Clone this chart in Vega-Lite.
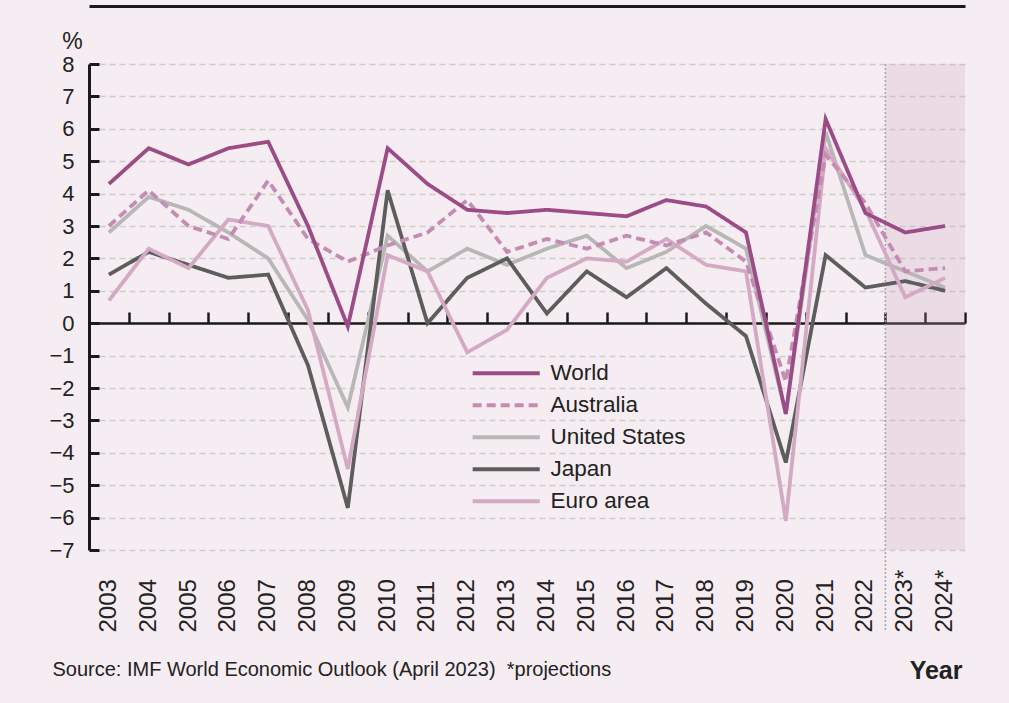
{
  "$schema": "https://vega.github.io/schema/vega-lite/v6.json",
  "width": 876,
  "height": 486,
  "autosize": {"type": "none"},
  "padding": {"left": 89, "top": 64, "right": 44, "bottom": 153},
  "background": "#f5edf1",
  "config": {
    "view": {"stroke": null},
    "font": "Liberation Sans",
    "axis": {"labelFont": "Liberation Sans", "titleFont": "Liberation Sans", "labelColor": "#222222", "titleColor": "#222222"},
    "legend": {"labelFont": "Liberation Sans"}
  },
  "datasets": {
    "growth": [
      {"year": "2003", "series": "United States", "value": 2.8},
      {"year": "2004", "series": "United States", "value": 3.9},
      {"year": "2005", "series": "United States", "value": 3.5},
      {"year": "2006", "series": "United States", "value": 2.8},
      {"year": "2007", "series": "United States", "value": 2.0},
      {"year": "2008", "series": "United States", "value": 0.1},
      {"year": "2009", "series": "United States", "value": -2.6},
      {"year": "2010", "series": "United States", "value": 2.7},
      {"year": "2011", "series": "United States", "value": 1.6},
      {"year": "2012", "series": "United States", "value": 2.3},
      {"year": "2013", "series": "United States", "value": 1.8},
      {"year": "2014", "series": "United States", "value": 2.3},
      {"year": "2015", "series": "United States", "value": 2.7},
      {"year": "2016", "series": "United States", "value": 1.7},
      {"year": "2017", "series": "United States", "value": 2.2},
      {"year": "2018", "series": "United States", "value": 3.0},
      {"year": "2019", "series": "United States", "value": 2.3},
      {"year": "2020", "series": "United States", "value": -2.8},
      {"year": "2021", "series": "United States", "value": 5.9},
      {"year": "2022", "series": "United States", "value": 2.1},
      {"year": "2023*", "series": "United States", "value": 1.6},
      {"year": "2024*", "series": "United States", "value": 1.1},
      {"year": "2003", "series": "Japan", "value": 1.5},
      {"year": "2004", "series": "Japan", "value": 2.2},
      {"year": "2005", "series": "Japan", "value": 1.8},
      {"year": "2006", "series": "Japan", "value": 1.4},
      {"year": "2007", "series": "Japan", "value": 1.5},
      {"year": "2008", "series": "Japan", "value": -1.3},
      {"year": "2009", "series": "Japan", "value": -5.7},
      {"year": "2010", "series": "Japan", "value": 4.1},
      {"year": "2011", "series": "Japan", "value": 0.0},
      {"year": "2012", "series": "Japan", "value": 1.4},
      {"year": "2013", "series": "Japan", "value": 2.0},
      {"year": "2014", "series": "Japan", "value": 0.3},
      {"year": "2015", "series": "Japan", "value": 1.6},
      {"year": "2016", "series": "Japan", "value": 0.8},
      {"year": "2017", "series": "Japan", "value": 1.7},
      {"year": "2018", "series": "Japan", "value": 0.6},
      {"year": "2019", "series": "Japan", "value": -0.4},
      {"year": "2020", "series": "Japan", "value": -4.3},
      {"year": "2021", "series": "Japan", "value": 2.1},
      {"year": "2022", "series": "Japan", "value": 1.1},
      {"year": "2023*", "series": "Japan", "value": 1.3},
      {"year": "2024*", "series": "Japan", "value": 1.0},
      {"year": "2003", "series": "Euro area", "value": 0.7},
      {"year": "2004", "series": "Euro area", "value": 2.3},
      {"year": "2005", "series": "Euro area", "value": 1.7},
      {"year": "2006", "series": "Euro area", "value": 3.2},
      {"year": "2007", "series": "Euro area", "value": 3.0},
      {"year": "2008", "series": "Euro area", "value": 0.4},
      {"year": "2009", "series": "Euro area", "value": -4.5},
      {"year": "2010", "series": "Euro area", "value": 2.1},
      {"year": "2011", "series": "Euro area", "value": 1.6},
      {"year": "2012", "series": "Euro area", "value": -0.9},
      {"year": "2013", "series": "Euro area", "value": -0.2},
      {"year": "2014", "series": "Euro area", "value": 1.4},
      {"year": "2015", "series": "Euro area", "value": 2.0},
      {"year": "2016", "series": "Euro area", "value": 1.9},
      {"year": "2017", "series": "Euro area", "value": 2.6},
      {"year": "2018", "series": "Euro area", "value": 1.8},
      {"year": "2019", "series": "Euro area", "value": 1.6},
      {"year": "2020", "series": "Euro area", "value": -6.1},
      {"year": "2021", "series": "Euro area", "value": 5.4},
      {"year": "2022", "series": "Euro area", "value": 3.5},
      {"year": "2023*", "series": "Euro area", "value": 0.8},
      {"year": "2024*", "series": "Euro area", "value": 1.4},
      {"year": "2003", "series": "Australia", "value": 3.0},
      {"year": "2004", "series": "Australia", "value": 4.1},
      {"year": "2005", "series": "Australia", "value": 3.0},
      {"year": "2006", "series": "Australia", "value": 2.6},
      {"year": "2007", "series": "Australia", "value": 4.4},
      {"year": "2008", "series": "Australia", "value": 2.6},
      {"year": "2009", "series": "Australia", "value": 1.9},
      {"year": "2010", "series": "Australia", "value": 2.4},
      {"year": "2011", "series": "Australia", "value": 2.8},
      {"year": "2012", "series": "Australia", "value": 3.8},
      {"year": "2013", "series": "Australia", "value": 2.2},
      {"year": "2014", "series": "Australia", "value": 2.6},
      {"year": "2015", "series": "Australia", "value": 2.3},
      {"year": "2016", "series": "Australia", "value": 2.7},
      {"year": "2017", "series": "Australia", "value": 2.4},
      {"year": "2018", "series": "Australia", "value": 2.8},
      {"year": "2019", "series": "Australia", "value": 1.9},
      {"year": "2020", "series": "Australia", "value": -1.8},
      {"year": "2021", "series": "Australia", "value": 5.2},
      {"year": "2022", "series": "Australia", "value": 3.7},
      {"year": "2023*", "series": "Australia", "value": 1.6},
      {"year": "2024*", "series": "Australia", "value": 1.7},
      {"year": "2003", "series": "World", "value": 4.3},
      {"year": "2004", "series": "World", "value": 5.4},
      {"year": "2005", "series": "World", "value": 4.9},
      {"year": "2006", "series": "World", "value": 5.4},
      {"year": "2007", "series": "World", "value": 5.6},
      {"year": "2008", "series": "World", "value": 3.0},
      {"year": "2009", "series": "World", "value": -0.1},
      {"year": "2010", "series": "World", "value": 5.4},
      {"year": "2011", "series": "World", "value": 4.3},
      {"year": "2012", "series": "World", "value": 3.5},
      {"year": "2013", "series": "World", "value": 3.4},
      {"year": "2014", "series": "World", "value": 3.5},
      {"year": "2015", "series": "World", "value": 3.4},
      {"year": "2016", "series": "World", "value": 3.3},
      {"year": "2017", "series": "World", "value": 3.8},
      {"year": "2018", "series": "World", "value": 3.6},
      {"year": "2019", "series": "World", "value": 2.8},
      {"year": "2020", "series": "World", "value": -2.8},
      {"year": "2021", "series": "World", "value": 6.3},
      {"year": "2022", "series": "World", "value": 3.4},
      {"year": "2023*", "series": "World", "value": 2.8},
      {"year": "2024*", "series": "World", "value": 3.0}
    ],
    "projection": [
      {"year": "2023*"},
      {"year": "2024*"}
    ],
    "boundary": [
      {"year": "2023*"}
    ]
  },
  "resolve": {"axis": {"x": "independent", "y": "independent"}},
  "layer": [
    {
      "data": {"name": "projection"},
      "mark": {"type": "rect", "color": "#c9a0bf", "opacity": 0.23},
      "encoding": {
        "x": {
          "field": "year", "type": "ordinal",
          "scale": {"type": "band", "domain": ["2003","2004","2005","2006","2007","2008","2009","2010","2011","2012","2013","2014","2015","2016","2017","2018","2019","2020","2021","2022","2023*","2024*"], "paddingInner": 0, "paddingOuter": 0},
          "axis": {"orient": "top", "offset": 58, "domain": true, "domainColor": "#1a1a1a", "domainWidth": 3, "ticks": false, "labels": false, "grid": false, "title": null}
        },
        "y": {"datum": 8, "type": "quantitative", "scale": {"domain": [-7, 8], "nice": false, "zero": false}, "axis": null},
        "y2": {"datum": -7}
      }
    },
    {
      "data": {"name": "boundary"},
      "mark": {"type": "rule", "color": "#a8a8a8", "strokeDash": [2, 2], "strokeWidth": 1.5},
      "encoding": {
        "x": {
          "field": "year", "type": "ordinal", "bandPosition": 0,
          "axis": {"orient": "bottom", "offset": -227, "domain": true, "domainColor": "#1a1a1a", "domainWidth": 2.5, "ticks": true, "tickBand": "extent", "tickSize": -11, "tickWidth": 2.5, "tickColor": "#1a1a1a", "labels": false, "grid": false,
                   "title": "Source: IMF World Economic Outlook (April 2023)\u00a0\u00a0*projections", "titleX": -37, "titleY": 352, "titleAlign": "left", "titleBaseline": "alphabetic", "titleFontSize": 20, "titleFontWeight": "normal", "titleColor": "#222222"}
        },
        "y": {"datum": 8, "type": "quantitative", "axis": null},
        "y2": {"datum": -9.5}
      }
    },
    {
      "data": {"name": "growth"},
      "mark": {"type": "line", "strokeWidth": 3.8},
      "encoding": {
        "x": {
          "field": "year", "type": "ordinal",
          "axis": {"orient": "bottom", "domain": false, "ticks": false, "grid": false, "labelAngle": -90, "labelAlign": "left", "labelBaseline": "middle", "labelPadding": 82, "labelFontSize": 24,
                   "title": "Year", "titleX": 873, "titleY": 128, "titleAlign": "right", "titleBaseline": "alphabetic", "titleFontSize": 25, "titleFontWeight": "bold"}
        },
        "y": {
          "field": "value", "type": "quantitative",
          "axis": {"orient": "left", "values": [-7,-6,-5,-4,-3,-2,-1,0,1,2,3,4,5,6,7,8], "domain": true, "domainColor": "#1a1a1a", "domainWidth": 3, "ticks": true, "tickSize": -10, "tickWidth": 3, "tickColor": "#1a1a1a", "labelFontSize": 22, "labelPadding": 25,
                   "grid": true, "gridColor": "#cdcdcd", "gridDash": [6, 4], "gridWidth": 1.5,
                   "title": "%", "titleAngle": 0, "titleX": -17, "titleY": -16, "titleAlign": "center", "titleBaseline": "alphabetic", "titleFontSize": 23, "titleFontWeight": "normal"}
        },
        "color": {
          "field": "series", "type": "nominal",
          "scale": {"domain": ["World", "Australia", "United States", "Japan", "Euro area"], "range": ["#9b4c86", "#c58cb3", "#b7b7b7", "#5d5d5d", "#d4a9c4"]},
          "legend": {"title": null, "orient": "none", "legendX": 378, "legendY": 298, "padding": 0, "labelFontSize": 22.5, "labelColor": "#222222", "symbolType": "M-1,0H11", "symbolSize": 125, "symbolStrokeWidth": 4, "labelOffset": 61, "rowPadding": 9}
        },
        "strokeDash": {
          "field": "series", "type": "nominal",
          "scale": {"domain": ["World", "Australia", "United States", "Japan", "Euro area"], "range": [[1, 0], [9, 5], [1, 0], [1, 0], [1, 0]]},
          "legend": {"title": null, "orient": "none", "legendX": 378, "legendY": 298, "padding": 0, "labelFontSize": 22.5, "labelColor": "#222222", "symbolType": "M-1,0H11", "symbolSize": 125, "symbolStrokeWidth": 4, "labelOffset": 61, "rowPadding": 9}
        }
      }
    }
  ]
}
